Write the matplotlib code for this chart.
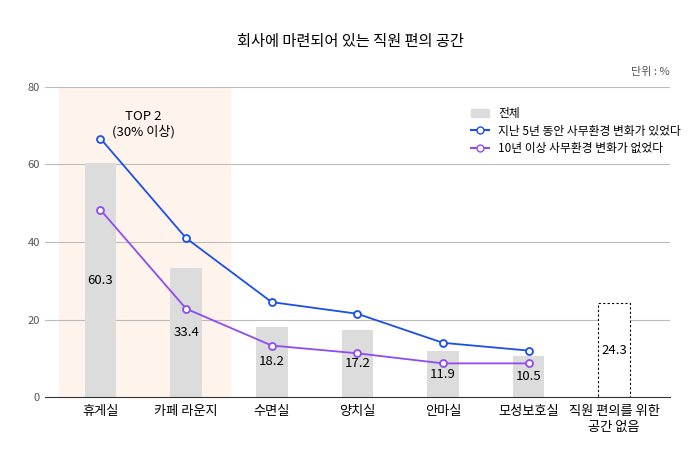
import matplotlib
matplotlib.use("Agg")
import matplotlib.pyplot as plt
from matplotlib.patches import Patch
from matplotlib.lines import Line2D

plt.rcParams['font.family'] = ['Noto Sans CJK KR', 'DejaVu Sans']

categories = ["휴게실", "카페 라운지", "수면실", "양치실", "안마실", "모성보호실", "직원 편의를 위한\n공간 없음"]
total = [60.3, 33.4, 18.2, 17.2, 11.9, 10.5, 24.3]
recent = [66.7, 41.0, 24.5, 21.5, 14.0, 12.0]
older = [48.3, 22.8, 13.3, 11.3, 8.7, 8.7]

fig = plt.figure(figsize=(7, 4.65), dpi=100)
ax = fig.add_axes([0.064, 0.146, 0.893, 0.667])
x = list(range(len(categories)))

ax.axvspan(-0.48, 1.51, color="#FFF4EB", zorder=0)
for y in [20, 40, 60, 80]:
    ax.axhline(y, color="#bbbbbb", lw=0.8, zorder=1)

ax.bar(x[:6], total[:6], width=0.37, color="#DCDCDC", zorder=2)
ax.bar(x[6], total[6], width=0.37, facecolor="white", edgecolor="black", ls=(0, (2, 2)), lw=0.8, zorder=2)
for xi, v in zip(x, total):
    ax.text(xi, v / 2, f"{v}", ha="center", va="center", fontsize=9.5, zorder=5)

ax.plot(x[:6], recent, color="#1A4FE8", lw=1.3, marker="o", ms=5, mfc="white", mec="#1A4FE8", mew=1.3, zorder=4)
ax.plot(x[:6], older, color="#8F4BF0", lw=1.3, marker="o", ms=5, mfc="white", mec="#8F4BF0", mew=1.3, zorder=4)

ax.text(0.5, 72.5, "TOP 2", ha="center", va="center", fontsize=9.5)
ax.text(0.5, 68.5, "(30% 이상)", ha="center", va="center", fontsize=9.5)

ax.set_xlim(-0.65, 6.65)
ax.set_ylim(0, 80)
ax.set_yticks([0, 20, 40, 60, 80])
ax.tick_params(axis="y", length=0, labelsize=8, colors="#555555")
ax.tick_params(axis="x", length=0, labelsize=9.5, pad=6)
ax.set_xticks(x)
ax.set_xticklabels(categories)
for s in ["top", "right", "left"]:
    ax.spines[s].set_visible(False)
ax.spines["bottom"].set_color("#333333")

handles = [Patch(color="#DCDCDC"),
           Line2D([], [], color="#1A4FE8", marker="o", mfc="white", ms=5),
           Line2D([], [], color="#8F4BF0", marker="o", mfc="white", ms=5)]
labels = ["전체", "지난 5년 동안 사무환경 변화가 있었다", "10년 이상 사무환경 변화가 없었다"]
ax.legend(handles, labels, loc="upper left", bbox_to_anchor=(0.665, 0.97), frameon=False,
          fontsize=8.5, handlelength=1.5, labelspacing=0.4)

fig.text(0.5, 0.91, "회사에 마련되어 있는 직원 편의 공간", ha="center", va="center", fontsize=11)
fig.text(0.957, 0.845, "단위 : %", ha="right", va="center", fontsize=8, color="#555555")

fig.savefig("out.png", dpi=100)
